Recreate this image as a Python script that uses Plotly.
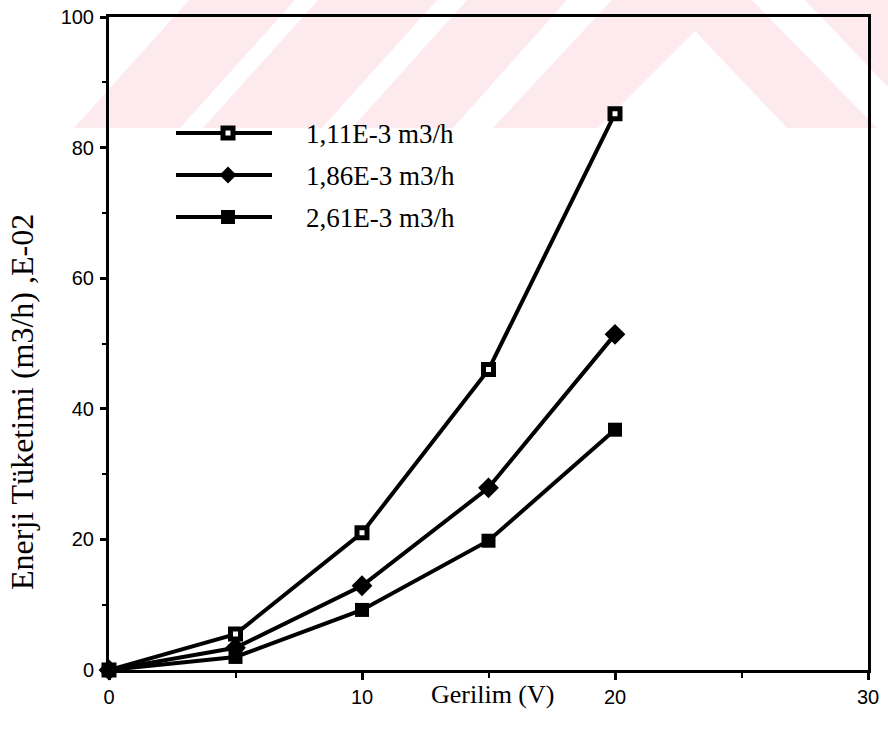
import plotly.graph_objects as go

# ---------------- data ----------------
voltage = [0, 5, 10, 15, 20]
flow_111 = [0, 5.5, 21.0, 46.0, 85.2]
flow_186 = [0, 3.4, 12.9, 27.9, 51.4]
flow_261 = [0, 2.0, 9.2, 19.8, 36.8]
series_names = ["1,11E-3 m3/h", "1,86E-3 m3/h", "2,61E-3 m3/h"]
x_tick_vals = [0, 10, 20, 30]
y_tick_vals = [0, 20, 40, 60, 80, 100]
x_minor = [5, 15, 25]
y_minor = [10, 30, 50, 70, 90]
x_title = "Gerilim (V)"
y_title = "Enerji Tüketimi (m3/h) ,E-02"

# ---------------- layout helpers ----------------
W, H = 888, 736
L, R, T, B = 109, 20, 17, 66
PW = W - L - R
PH = H - T - B


def fx(px):
    return (px - L) / PW


def fy(py):
    return (H - B - py) / PH


def path(points):
    return "M " + " L ".join(f"{fx(a):.5f},{fy(b):.5f}" for a, b in points) + " Z"


SERIF = "Liberation Serif, Times New Roman, serif"
SANS = "Liberation Sans, Arial, Helvetica, sans-serif"

m1 = dict(symbol="square", size=10, color="white", line=dict(color="black", width=5))
m2 = dict(symbol="diamond", size=16, color="black", line=dict(width=0))
m3 = dict(symbol="square", size=14, color="black", line=dict(width=0))

fig = go.Figure()
for ys, mk, nm in [(flow_111, m1, series_names[0]),
                   (flow_186, m2, series_names[1]),
                   (flow_261, m3, series_names[2])]:
    fig.add_trace(go.Scatter(
        x=voltage, y=ys, name=nm, mode="lines+markers",
        line=dict(color="black", width=4), marker=mk,
        cliponaxis=False, showlegend=False))

shapes = []
# watermark (light pink band at top)
pink = "rgb(253,234,238)"
wm = [
    [(74, 128), (189, 0), (295, 0), (180, 128)],
    [(203, 128), (318, 0), (437, 0), (322, 128)],
    [(352, 128), (467, 0), (567, 0), (453, 128)],
    [(493, 128), (612, 0), (752, 0), (877, 128), (787, 128), (695, 31), (598, 128)],
    [(805, 0), (888, 0), (888, 87)],
]
for poly in wm:
    shapes.append(dict(type="path", path=path(poly), xref="paper", yref="paper",
                       fillcolor=pink, line=dict(width=0), layer="below"))

# custom legend
rows_y = [133, 175, 217]
lx0, lx1, mx = 176, 272, 228
for yy in rows_y:
    shapes.append(dict(type="line", xref="paper", yref="paper",
                       x0=fx(lx0), x1=fx(lx1), y0=fy(yy), y1=fy(yy),
                       line=dict(color="black", width=4)))
s = 7.5
shapes.append(dict(type="path", xref="paper", yref="paper",
                   path=path([(mx - s, rows_y[0] - s), (mx + s, rows_y[0] - s), (mx + s, rows_y[0] + s), (mx - s, rows_y[0] + s)]),
                   fillcolor="black", line=dict(width=0)))
h = 2.5
shapes.append(dict(type="path", xref="paper", yref="paper",
                   path=path([(mx - h, rows_y[0] - h), (mx + h, rows_y[0] - h), (mx + h, rows_y[0] + h), (mx - h, rows_y[0] + h)]),
                   fillcolor="white", line=dict(width=0)))
d = 8.5
shapes.append(dict(type="path", xref="paper", yref="paper",
                   path=path([(mx - d, rows_y[1]), (mx, rows_y[1] - d), (mx + d, rows_y[1]), (mx, rows_y[1] + d)]),
                   fillcolor="black", line=dict(width=0)))
s3 = 7
shapes.append(dict(type="path", xref="paper", yref="paper",
                   path=path([(mx - s3, rows_y[2] - s3), (mx + s3, rows_y[2] - s3), (mx + s3, rows_y[2] + s3), (mx - s3, rows_y[2] + s3)]),
                   fillcolor="black", line=dict(width=0)))

annotations = []
for nm, yy in zip(series_names, rows_y):
    annotations.append(dict(text=nm, x=fx(304), y=fy(yy + 1), xref="paper", yref="paper",
                            xanchor="left", yanchor="middle", showarrow=False,
                            font=dict(family=SERIF, size=27, color="black")))
annotations.append(dict(text=x_title, x=fx(492), y=fy(694), xref="paper", yref="paper",
                        xanchor="center", yanchor="middle", showarrow=False,
                        font=dict(family=SERIF, size=26, color="black")))
annotations.append(dict(text=y_title, x=fx(22), y=fy(402), xref="paper", yref="paper",
                        xanchor="center", yanchor="middle", showarrow=False, textangle=-90,
                        font=dict(family=SERIF, size=32, color="black")))

axis_common = dict(showline=True, linewidth=3, linecolor="black", mirror=True,
                   showgrid=False, zeroline=False, ticks="outside", tickwidth=3,
                   tickcolor="black", tickfont=dict(family=SANS, size=20, color="black"))

fig.update_layout(
    width=W, height=H,
    margin=dict(l=L, r=R, t=T, b=B, pad=0, autoexpand=False),
    paper_bgcolor="white", plot_bgcolor="rgba(0,0,0,0)",
    showlegend=False,
    shapes=shapes, annotations=annotations,
    xaxis=dict(range=[0, 30], tickvals=x_tick_vals, ticklen=7, ticklabelstandoff=0,
               automargin=False,
               minor=dict(tickvals=x_minor, ticks="outside", ticklen=5, tickwidth=2, tickcolor="black"),
               **axis_common),
    yaxis=dict(range=[0, 100], tickvals=y_tick_vals, ticklen=6, ticklabelstandoff=2,
               automargin=False,
               minor=dict(tickvals=y_minor, ticks="outside", ticklen=4, tickwidth=2, tickcolor="black"),
               **axis_common),
)

fig.write_html("out.html", config={"displayModeBar": False},
               post_script="document.body.style.margin='0px';")
